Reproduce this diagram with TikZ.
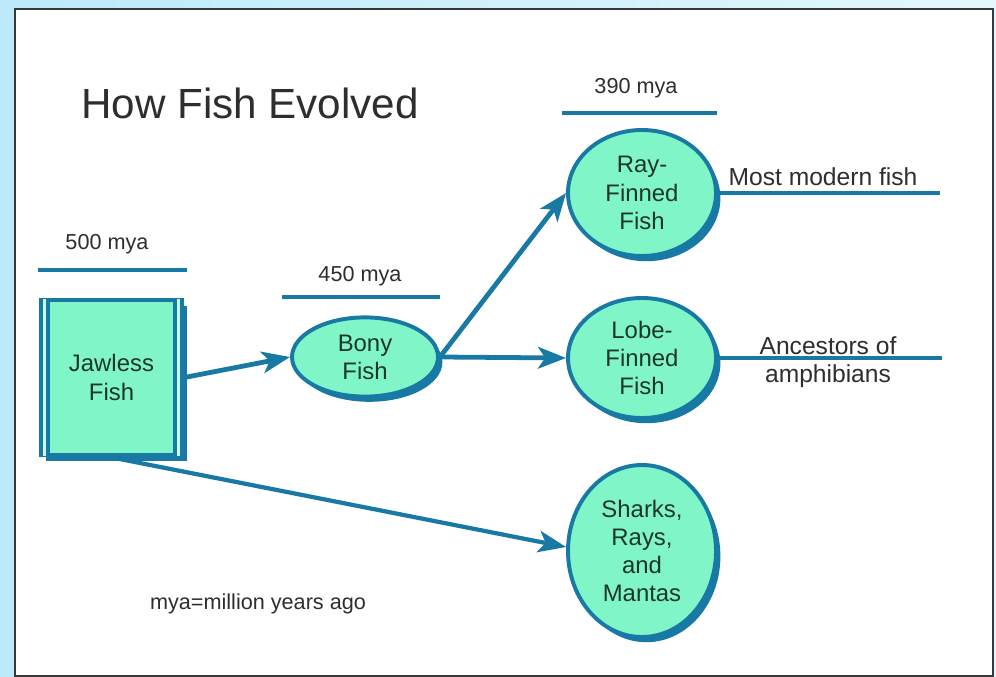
\documentclass[tikz,border=0pt]{standalone}
\usepackage{fontspec}
\setmainfont{Liberation Sans}
\usetikzlibrary{arrows.meta,shapes.geometric,shadows}
\definecolor{edge}{RGB}{24,122,164}
\definecolor{aqua}{RGB}{128,246,200}
\definecolor{aqualight}{RGB}{196,252,230}
\definecolor{ink}{gray}{0.18}
\definecolor{fishink}{RGB}{28,54,40}
\definecolor{skyleft}{RGB}{188,234,250}
\definecolor{skyright}{RGB}{228,247,253}
\definecolor{frame}{gray}{0.22}
\tikzset{
  taxon/.style={ellipse, draw=edge, line width=2.8pt, fill=aqua, align=center, inner sep=0pt,
                text=fishink, font=\fontsize{17}{20}\selectfont,
                general shadow={fill=edge, shadow xshift=1.1mm, shadow yshift=-1.3mm}},
  jawbox/.style={rectangle, draw=edge, line width=3.4pt, fill=aqua, align=center, inner sep=0pt,
                 text=fishink, font=\fontsize{17}{20}\selectfont,
                 general shadow={fill=edge, shadow xshift=1.2mm, shadow yshift=-1.4mm}},
  flow/.style={draw=edge, line width=3.4pt, -{Stealth[length=7mm,width=5.4mm,inset=1.8mm]}},
  era/.style={draw=edge, line width=2.8pt},
  tick/.style={text=ink, font=\fontsize{15.4}{18}\selectfont},
  note/.style={text=ink, align=center, font=\fontsize{17.5}{20}\selectfont},
}
\begin{document}
\begin{tikzpicture}[x=0.25mm, y=-0.25mm]
  \useasboundingbox (0,0) rectangle (996,677);
  \shade[left color=skyleft, right color=skyright] (0,0) rectangle (996,677);
  \draw[frame, line width=1.4pt, fill=white] (15,9) rectangle (993,676);

  \node[text=ink, font=\fontsize{30}{34}\selectfont] (title) at (250,103) {How Fish Evolved};

  % time marks
  \node[tick] (t500) at (107,244) {500 mya};
  \node[tick] (t450) at (360,276) {450 mya};
  \node[tick] (t390) at (636,88) {390 mya};
  \coordinate (e500a) at (38,270);  \coordinate (e500b) at (187,270);
  \coordinate (e450a) at (282,297); \coordinate (e450b) at (440,297);
  \coordinate (e390a) at (562,113); \coordinate (e390b) at (717,113);
  \draw[era] (e500a) -- (e500b);
  \draw[era] (e450a) -- (e450b);
  \draw[era] (e390a) -- (e390b);

  % groups
  \node[jawbox, minimum width=35.25mm, minimum height=38.75mm] (jawless) at (111.5,377.5) {Jawless\\Fish};
  \fill[aqualight] ([xshift=1.2mm,yshift=-0.4mm]jawless.north west) rectangle ([xshift=1.8mm,yshift=0.4mm]jawless.south west);
  \fill[aqualight] ([xshift=-1.2mm,yshift=-0.4mm]jawless.north east) rectangle ([xshift=-1.8mm,yshift=0.4mm]jawless.south east);
  \draw[edge, line width=2.6pt] ([xshift=2.3mm]jawless.north west) -- ([xshift=2.3mm]jawless.south west);
  \draw[edge, line width=2.6pt] ([xshift=-2.3mm]jawless.north east) -- ([xshift=-2.3mm]jawless.south east);

  \node[taxon, minimum width=36.5mm, minimum height=19.8mm] (bony) at (365,357) {Bony\\Fish};
  \node[taxon, minimum width=37mm, minimum height=31.5mm] (ray) at (642,193) {Ray-\\Finned\\Fish};
  \node[taxon, minimum width=37mm, minimum height=30mm] (lobe) at (642,358) {Lobe-\\Finned\\Fish};
  \node[taxon, minimum width=37mm, minimum height=43mm] (sharks) at (642,551) {Sharks,\\Rays,\\and\\Mantas};

  \draw[flow] (jawless.east) -- (bony.west);
  \draw[flow] (bony.east) -- (ray.west);
  \draw[flow] (bony.east) -- (lobe.west);
  \draw[flow, line width=3pt] (jawless.south) -- (sharks.177);

  % descendants
  \coordinate (rayend) at (940,193);
  \coordinate (lobeend) at (942,358);
  \draw[era] (ray.east) -- (rayend);
  \draw[era] (lobe.east) -- (lobeend);
  \node[note] (modern) at (823,177) {Most modern fish};
  \node[note] (amphib) at (828,362) {Ancestors of\\amphibians};

  \node[tick] (key) at (258,604) {mya=million years ago};
\end{tikzpicture}
\end{document}
